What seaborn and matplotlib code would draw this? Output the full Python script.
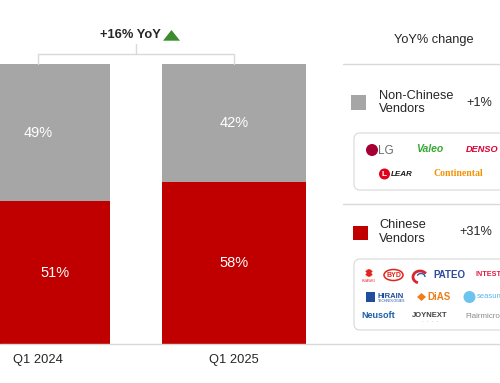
import matplotlib
matplotlib.use('Agg')
import matplotlib.pyplot as plt
import seaborn as sns
import pandas as pd
from matplotlib.patches import FancyBboxPatch, Rectangle, Circle, Ellipse, Polygon, Arc

# data
quarters = ['Q1 2024', 'Q1 2025']
chinese_share = [51, 58]
non_chinese_share = [49, 42]
yoy_total = '+16% YoY'
yoy_non_chinese = '+1%'
yoy_chinese = '+31%'

GRAY = '#a6a6a6'
RED = '#c00000'
LINE = '#d9d9d9'
TXT = '#262626'


if __name__ == '__main__':
    sns.set_style('white')
    plt.rcParams['font.family'] = ['Liberation Sans', 'DejaVu Sans']

    df = pd.DataFrame({'quarter': quarters,
                       'chinese': chinese_share,
                       'non_chinese': non_chinese_share})
    df['total'] = df['chinese'] + df['non_chinese']

    fig = plt.figure(figsize=(5, 3.83), dpi=100)
    ax = fig.add_axes([0, 39 / 383, 330 / 500, 344 / 383])

    # stacked bars: gray total behind, red chinese share in front
    sns.barplot(data=df, x='quarter', y='total', color=GRAY, saturation=1,
                width=0.736, linewidth=0, ax=ax)
    sns.barplot(data=df, x='quarter', y='chinese', color=RED, saturation=1,
                width=0.736, linewidth=0, ax=ax)

    ax.bar_label(ax.containers[1], labels=[f'{v}%' for v in df['chinese']],
                 label_type='center', color='white', fontsize=10.5)
    for i, row in df.iterrows():
        ax.text(i, row['chinese'] + row['non_chinese'] / 2, f"{row['non_chinese']}%",
                ha='center', va='center', color='white', fontsize=10.5)

    ax.set_xlim(-0.193, 1.49)
    ax.set_ylim(0, 122.86)
    ax.set_xlabel('')
    ax.set_ylabel('')
    ax.set_yticks([])
    ax.tick_params(axis='x', length=0, pad=7.5, labelsize=9.3, labelcolor=TXT)
    sns.despine(ax=ax, left=True, bottom=True)

    # yoy bracket above the bars
    top = df['total'].max()
    ax.plot([0, 0, 1, 1], [top, top + 3.6, top + 3.6, top], color=LINE, lw=1, clip_on=False)
    ax.plot([0.5, 0.5], [top + 3.6, top + 7.1], color=LINE, lw=1)
    ax.text(0.47, top + 10.2, yoy_total, ha='center', va='center',
            fontsize=9.3, fontweight='bold', color=TXT)

    # overlay in pixel coords for the side panel
    ov = fig.add_axes([0, 0, 1, 1], facecolor='none')
    ov.set_xlim(0, 500)
    ov.set_ylim(383, 0)
    ov.axis('off')

    ov.add_patch(Polygon([(163, 40.7), (180, 40.7), (171.5, 30)], closed=True,
                         color='#3d8b2f', lw=0))
    ov.plot([0, 500], [344, 344], color=LINE, lw=1)

    ov.text(433.5, 40, 'YoY% change', ha='center', va='center', fontsize=9.2, color=TXT)
    ov.plot([343, 500], [63.5, 63.5], color=LINE, lw=1)
    ov.plot([343, 500], [204, 204], color=LINE, lw=1)

    # non-chinese row
    ov.add_patch(Rectangle((351, 95), 15, 14.5, color=GRAY, lw=0))
    ov.text(379, 102.5, 'Non-Chinese\nVendors', ha='left', va='center',
            fontsize=9.2, color=TXT, linespacing=1.15)
    ov.text(492, 102.5, yoy_non_chinese, ha='right', va='center', fontsize=9.2, color=TXT)
    ov.add_patch(FancyBboxPatch((354, 133), 170, 57,
                                boxstyle='round,pad=0,rounding_size=6',
                                fc='white', ec=LINE, lw=0.8))
    ov.add_patch(Circle((372, 150), 6, color='#a50034', lw=0))
    ov.text(378, 150.5, 'LG', ha='left', va='center', fontsize=8.5, color='#6b6b6b')
    ov.text(430, 149, 'Valeo', ha='center', va='center', fontsize=7.5,
            fontweight='bold', fontstyle='italic', color='#39a935')
    ov.text(466, 149, 'DENSO', ha='left', va='center', fontsize=6.6,
            fontweight='bold', fontstyle='italic', color='#dc0032')
    ov.add_patch(Circle((384.5, 174), 5.5, color='#e2001a', lw=0))
    ov.text(384.5, 174.3, 'L', ha='center', va='center', fontsize=6,
            fontweight='bold', color='white')
    ov.text(391, 174.5, 'LEAR', ha='left', va='center', fontsize=5.8,
            fontweight='bold', fontstyle='italic', color='#1a1a1a')
    ov.text(433, 173.5, 'Continental', ha='left', va='center', fontsize=7,
            fontweight='bold', color='#f39200', family='Liberation Serif')

    # chinese row
    ov.add_patch(Rectangle((353, 226), 15, 13.5, color=RED, lw=0))
    ov.text(379, 232, 'Chinese\nVendors', ha='left', va='center',
            fontsize=9.2, color=TXT, linespacing=1.15)
    ov.text(492, 232, yoy_chinese, ha='right', va='center', fontsize=9.2, color=TXT)
    ov.add_patch(FancyBboxPatch((354, 259), 170, 71,
                                boxstyle='round,pad=0,rounding_size=6',
                                fc='white', ec=LINE, lw=0.8))
    # huawei fan
    for ang in [-60, -35, -12, 12, 35, 60]:
        ov.add_patch(Ellipse((369, 273), 2.4, 8, angle=ang, color='#e2231a', lw=0))
    ov.text(369, 280.5, 'HUAWEI', ha='center', va='center', fontsize=2.5, color='#e2231a')
    ov.add_patch(Ellipse((393.5, 275), 19, 11, fc='none', ec='#e2231a', lw=1.1))
    ov.text(393.5, 275.3, 'BYD', ha='center', va='center', fontsize=5,
            fontweight='bold', color='#e2231a')
    ov.add_patch(Arc((420, 277), 14, 12, theta1=110, theta2=330, color='#d8262e', lw=2))
    ov.add_patch(Arc((421, 277), 8, 7, theta1=200, theta2=360, color='#2a5caa', lw=1))
    ov.text(449, 275, 'PATEO', ha='center', va='center', fontsize=7,
            fontweight='bold', color='#2e4a9b')
    ov.text(475, 275, 'INTEST', ha='left', va='center', fontsize=5.2,
            fontweight='bold', color='#e5173f')
    ov.add_patch(Rectangle((366, 292), 9, 10, color='#1f4e9c', lw=0))
    ov.text(378, 296, 'HIRAIN', ha='left', va='center', fontsize=5.5,
            fontweight='bold', color='#1f4e9c')
    ov.text(378, 301, 'TECHNOLOGIES', ha='left', va='center', fontsize=2.5, color='#1f4e9c')
    ov.add_patch(Polygon([(417, 297), (421.5, 293), (426, 297), (421.5, 301)],
                         closed=True, color='#f07d1a', lw=0))
    ov.text(427, 297, 'DiAS', ha='left', va='center', fontsize=7,
            fontweight='bold', color='#f07d1a')
    ov.add_patch(Circle((469.5, 297), 6, color='#6cc4ee', lw=0))
    ov.text(476.5, 297, 'seasun', ha='left', va='center', fontsize=5.5, color='#5bb8e8')
    ov.text(378.5, 315.5, 'Neusoft', ha='center', va='center', fontsize=6.5,
            fontweight='bold', color='#1b5faa')
    ov.text(430, 315.5, 'JOYNEXT', ha='center', va='center', fontsize=5.5,
            fontweight='bold', color='#444444')
    ov.text(430, 321.5, '\u00b7  \u00b7  \u00b7  \u00b7', ha='center', va='center',
            fontsize=4, color='#999999')
    ov.text(465, 316, 'Flairmicro', ha='left', va='center', fontsize=5.8, color='#8c8c8c')

    fig.savefig('out.png', dpi=100)
